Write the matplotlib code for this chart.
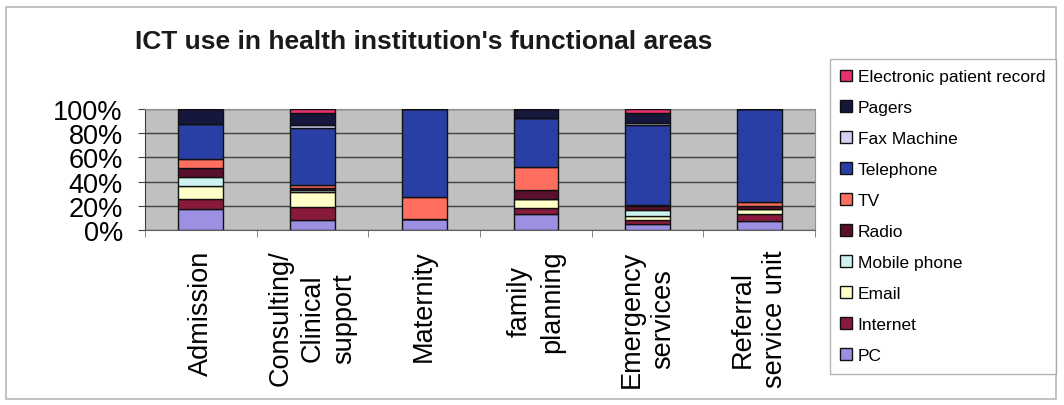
import matplotlib.pyplot as plt
import matplotlib.patches as mpatches
import numpy as np

plt.rcParams['font.family'] = ['Liberation Sans', 'DejaVu Sans']

# Data (percent of each functional area)
areas = ["Admission", "Consulting/\nClinical\nsupport", "Maternity",
         "family\nplanning", "Emergency\nservices", "Referral\nservice unit"]
series_names = ["PC", "Internet", "Email", "Mobile phone", "Radio", "TV",
                "Telephone", "Fax Machine", "Pagers", "Electronic patient record"]

pc        = [17.0,  8.5,  9.0, 13.0,  5.0,  7.5]
internet  = [ 9.0, 10.5,  0.0,  5.5,  3.5,  5.5]
email     = [10.5, 12.5,  0.0,  7.0,  3.0,  4.5]
mobile    = [ 7.0,  1.5,  0.0,  0.0,  5.0,  0.0]
radio     = [ 8.0,  2.0,  0.0,  7.5,  3.5,  2.0]
tv        = [ 7.5,  2.5, 18.5, 19.0,  0.5,  3.5]
telephone = [29.0, 47.0, 72.5, 40.5, 66.0, 77.0]
fax       = [ 0.0,  2.0,  0.0,  0.0,  2.0,  0.0]
pagers    = [12.0, 10.5,  0.0,  7.5,  8.5,  0.0]
epr       = [ 0.0,  3.0,  0.0,  0.0,  3.0,  0.0]

series_values = [pc, internet, email, mobile, radio, tv, telephone, fax, pagers, epr]
colors = ["#9b90e2", "#8a1a3c", "#ffffc8", "#cdf3f0", "#5a0f2c", "#ff6e5e",
          "#2a3fa6", "#d2d2f2", "#15173c", "#e8306a"]

fig = plt.figure(figsize=(10.64, 4.06), dpi=100)
ax = fig.add_axes([145 / 1064, 1 - 231 / 406, 670 / 1064, 121 / 406])

x = np.arange(len(areas))
bottom = np.zeros(len(areas))
handles = []
for name, vals, col in zip(series_names, series_values, colors):
    vals = np.array(vals)
    b = ax.bar(x, vals, 0.4, bottom=bottom, color=col, edgecolor="#101010",
               linewidth=1.0, label=name, zorder=3)
    handles.append(b)
    bottom += vals

ax.set_facecolor("#c0c0c0")
ax.set_xlim(-0.5, len(areas) - 0.5)
ax.set_ylim(0, 100)
ax.set_yticks(np.arange(0, 101, 20))
ax.set_yticklabels([f"{v}%" for v in range(0, 101, 20)], fontsize=19.5)
ax.yaxis.grid(True, color="#404040", linewidth=1.0, zorder=1)
ax.tick_params(axis="y", length=5, pad=11, color="#404040")

ax.set_xticks(x)
ax.set_xticklabels(areas, rotation=90, fontsize=19.5, ha="center", va="top",
                   multialignment="center", linespacing=1.3)
ax.set_xticks(np.arange(-0.5, len(areas), 1), minor=True)
ax.tick_params(axis="x", which="major", length=0, pad=14)
ax.tick_params(axis="x", which="minor", length=5, color="#707070")

for side in ["top", "right"]:
    ax.spines[side].set_color("#909090")
ax.spines["left"].set_color("#404040")
ax.spines["bottom"].set_color("#606060")

fig.text(135 / 1064, 1 - 42 / 406, "ICT use in health institution's functional areas",
         fontsize=19, fontweight="bold", ha="left", va="center", color="#1a1a1a")

leg = fig.legend(handles[::-1], series_names[::-1], loc="upper left",
                 bbox_to_anchor=(830 / 1064, 1 - 60 / 406), fontsize=12.5,
                 frameon=True, fancybox=False, edgecolor="#a0a0a0",
                 handlelength=0.65, handleheight=0.65, handletextpad=0.35,
                 labelspacing=0.92, borderpad=0.6, borderaxespad=0)
leg.get_frame().set_linewidth(1.0)

# outer chart border
fig.patches.append(mpatches.Rectangle((6 / 1064, 6 / 406), 1050 / 1064, 392 / 406,
                                      transform=fig.transFigure, fill=False,
                                      edgecolor="#b8b8b8", linewidth=1.2))

fig.savefig("out.png", dpi=100)
